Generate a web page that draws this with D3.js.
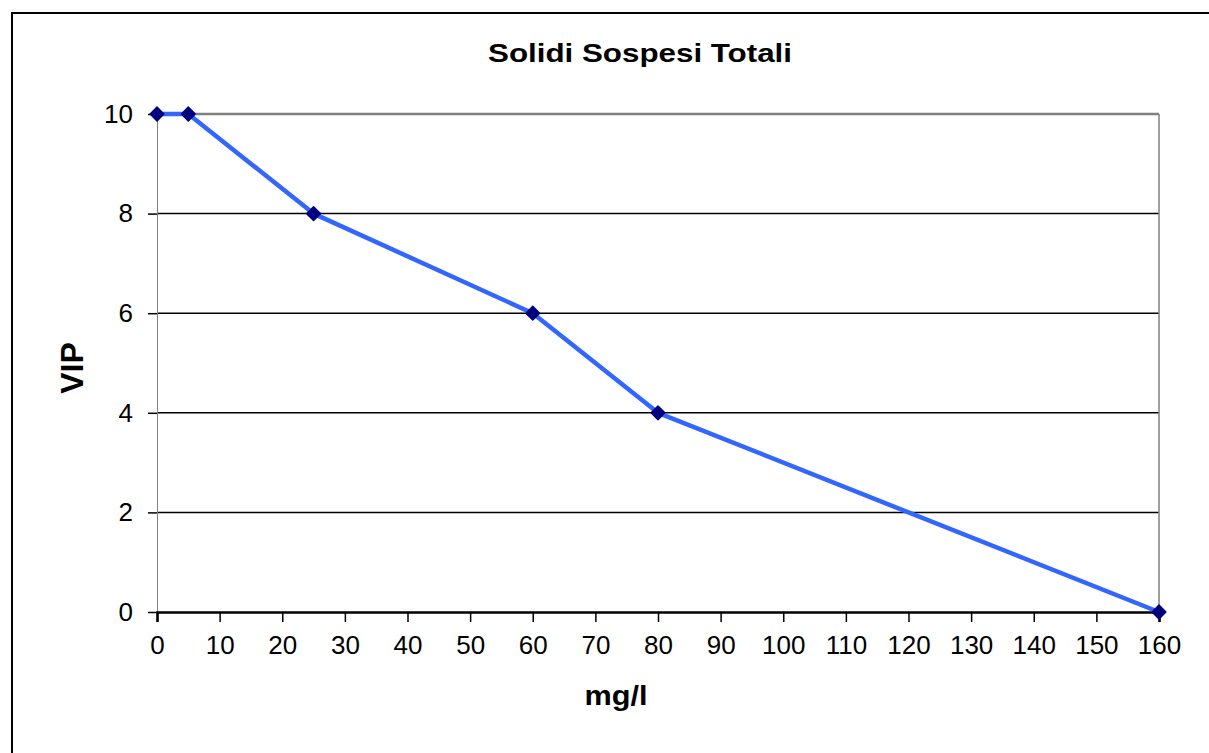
<!DOCTYPE html>
<html>
<head>
<meta charset="utf-8">
<script src="https://cdn.jsdelivr.net/npm/d3@7"></script>
<style>
  body { margin: 0; background: #fff; }
  svg { display: block; font-family: "Liberation Sans", Arial, sans-serif; }
</style>
</head>
<body>
<svg width="1209" height="753"></svg>
<script>
// data
var xValues = [0, 5, 25, 60, 80, 160];
var vipValues = [10, 10, 8, 6, 4, 0];
var xTicks = [0, 10, 20, 30, 40, 50, 60, 70, 80, 90, 100, 110, 120, 130, 140, 150, 160];
var yTicks = [0, 2, 4, 6, 8, 10];

var points = xValues.map(function (x, i) {
    return { x: x, y: vipValues[i] };
});

var svg = d3.select("svg"),
    margin = { top: 114, right: 50, bottom: 141, left: 157 },
    width = svg.attr("width") - margin.left - margin.right,
    height = svg.attr("height") - margin.top - margin.bottom;

// outer chart border (runs off the page to the right and bottom)
svg.append("rect")
    .attr("x", 12)
    .attr("y", 13)
    .attr("width", 1300)
    .attr("height", 900)
    .attr("fill", "none")
    .attr("stroke", "#000")
    .attr("stroke-width", 2);

var g = svg.append("g").attr("transform", "translate(" + margin.left + "," + margin.top + ")");

var xScale = d3.scaleLinear().domain([0, 160]).range([0, width]),
    yScale = d3.scaleLinear().domain([0, 10]).range([height, 0]);

// horizontal gridlines
g.selectAll(".grid")
    .data(yTicks.filter(function (d) { return d > 0 && d < 10; }))
    .enter().append("line")
    .attr("class", "grid")
    .attr("x1", 0)
    .attr("x2", width)
    .attr("y1", function (d) { return yScale(d); })
    .attr("y2", function (d) { return yScale(d); })
    .attr("stroke", "#000")
    .attr("stroke-width", 1.5);

// top and right frame of the plot area
g.append("line")
    .attr("x1", 0).attr("x2", width)
    .attr("y1", yScale(10)).attr("y2", yScale(10))
    .attr("stroke", "#808080")
    .attr("stroke-width", 2.5);
g.append("line")
    .attr("x1", width).attr("x2", width)
    .attr("y1", yScale(10)).attr("y2", height)
    .attr("stroke", "#808080")
    .attr("stroke-width", 1.5);

// y axis
var yAxis = d3.axisLeft(yScale).tickValues(yTicks).tickSize(9).tickPadding(15);
var gY = g.append("g").attr("class", "axis axis--y").call(yAxis);
gY.select(".domain").attr("stroke", "#808080").attr("stroke-width", 1);
gY.selectAll(".tick line").attr("stroke", "#000").attr("stroke-width", 1.5);
gY.selectAll(".tick text")
    .style("font-size", "26px")
    .attr("fill", "#000");

// x axis
var xAxis = d3.axisBottom(xScale).tickValues(xTicks).tickSize(10).tickPadding(14);
var gX = g.append("g")
    .attr("class", "axis axis--x")
    .attr("transform", "translate(0," + height + ")")
    .call(xAxis);
gX.select(".domain").attr("stroke", "#000").attr("stroke-width", 2.5);
gX.selectAll(".tick line").attr("stroke", "#000").attr("stroke-width", 1.5);
gX.selectAll(".tick text")
    .style("font-size", "26px")
    .attr("fill", "#000");

// series line
var line = d3.line()
    .x(function (d) { return xScale(d.x); })
    .y(function (d) { return yScale(d.y); });

g.append("path")
    .datum(points)
    .attr("d", line)
    .attr("fill", "none")
    .attr("stroke", "#3366FF")
    .attr("stroke-width", 4.5)
    .attr("stroke-linejoin", "round");

// diamond markers
g.selectAll(".marker")
    .data(points)
    .enter().append("path")
    .attr("class", "marker")
    .attr("d", d3.symbol().type(d3.symbolDiamond2).size(120))
    .attr("transform", function (d) {
        return "translate(" + xScale(d.x) + "," + yScale(d.y) + ")";
    })
    .attr("fill", "#000080")
    .attr("stroke", "#000080")
    .attr("stroke-width", 1.5)
    .attr("stroke-linejoin", "round");

// titles
svg.append("text")
    .attr("x", 640)
    .attr("y", 62)
    .attr("text-anchor", "middle")
    .attr("textLength", 304)
    .attr("lengthAdjust", "spacingAndGlyphs")
    .style("font-size", "25px")
    .style("font-weight", "bold")
    .text("Solidi Sospesi Totali");

svg.append("text")
    .attr("x", 616)
    .attr("y", 705)
    .attr("text-anchor", "middle")
    .attr("textLength", 63)
    .attr("lengthAdjust", "spacingAndGlyphs")
    .style("font-size", "28px")
    .style("font-weight", "bold")
    .text("mg/l");

svg.append("text")
    .attr("transform", "translate(83,368) rotate(-90)")
    .attr("text-anchor", "middle")
    .style("font-size", "32px")
    .style("font-weight", "bold")
    .text("VIP");
</script>
</body>
</html>
